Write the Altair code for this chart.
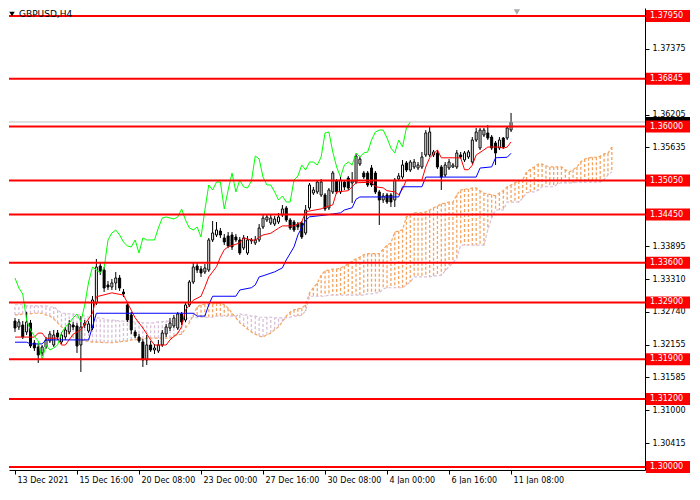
import altair as alt
import pandas as pd

# ---------------- data ----------------
symbol_label = ["GBPUSD,H4"]

time_label_bars = [0, 16, 32, 48, 64, 80, 96, 112, 128]
time_labels = ["13 Dec 2021", "15 Dec 16:00", "20 Dec 08:00", "23 Dec 00:00",
               "27 Dec 16:00", "30 Dec 08:00", "4 Jan 00:00", "6 Jan 16:00", "11 Jan 08:00"]

# price-axis ticks that are visible in the reference (the others sit under the red boxes)
price_ticks = [1.37375, 1.36790, 1.36205, 1.35635, 1.33895,
               1.33310, 1.32740, 1.32155, 1.31585, 1.31000, 1.30415]

levels = [1.37950, 1.36845, 1.36000, 1.35050, 1.34450, 1.33600,
          1.32900, 1.31900, 1.31200, 1.30000]

opens = [
    1.32573, 1.32468, 1.32503, 1.32380, 1.32538, 1.32186, 1.32116, 1.32010, 1.32116, 1.32221,
    1.32151, 1.32362, 1.32204, 1.32292, 1.32380, 1.32503, 1.32486, 1.32151, 1.32503, 1.32397,
    1.32450, 1.32891, 1.33543, 1.33473, 1.33208, 1.33173, 1.33244, 1.33332, 1.33085, 1.32856,
    1.32680, 1.32380, 1.32292, 1.32204, 1.31886, 1.32151, 1.32063, 1.32045, 1.32151, 1.32345,
    1.32450, 1.32486, 1.32450, 1.32697, 1.32591, 1.32856, 1.33261, 1.33543, 1.33490, 1.33438,
    1.33473, 1.34002, 1.34090, 1.34160, 1.34037, 1.34072, 1.34090, 1.34054, 1.34002, 1.33861,
    1.33772, 1.33984, 1.33949, 1.34002, 1.34231, 1.34354, 1.34301, 1.34283, 1.34319, 1.34442,
    1.34566, 1.34354, 1.34319, 1.34283, 1.34301, 1.34125, 1.34566, 1.34830, 1.34848, 1.34795,
    1.34795, 1.34566, 1.34848, 1.35041, 1.34848, 1.35024, 1.35094, 1.35006, 1.35024, 1.35341,
    1.35182, 1.35182, 1.35271, 1.35182, 1.34848, 1.34707, 1.34795, 1.34795, 1.34707, 1.35077,
    1.35112, 1.35359, 1.35235, 1.35288, 1.35271, 1.35288, 1.35500, 1.35500, 1.35500, 1.35535,
    1.35288, 1.35147, 1.35271, 1.35288, 1.35288, 1.35500, 1.35412, 1.35465, 1.35376, 1.35764,
    1.35623, 1.35852, 1.35888, 1.35817, 1.35711, 1.35623, 1.35799, 1.35799, 1.35940]

highs = [
    1.32627, 1.32609, 1.32573, 1.32733, 1.32591, 1.32239, 1.32168, 1.32151, 1.32292, 1.32397,
    1.32415, 1.32415, 1.32380, 1.32468, 1.32591, 1.32556, 1.32538, 1.32662, 1.32591, 1.32573,
    1.33014, 1.33667, 1.33596, 1.33525, 1.33279, 1.33314, 1.33438, 1.33385, 1.33138, 1.32909,
    1.32733, 1.32415, 1.32345, 1.32256, 1.32327, 1.32221, 1.32168, 1.32239, 1.32415, 1.32521,
    1.32627, 1.32680, 1.32733, 1.32733, 1.32909, 1.33297, 1.33596, 1.33614, 1.33543, 1.33578,
    1.34037, 1.34336, 1.34319, 1.34213, 1.34107, 1.34143, 1.34143, 1.34107, 1.34054, 1.34090,
    1.34072, 1.34037, 1.34072, 1.34283, 1.34442, 1.34460, 1.34442, 1.34424, 1.34477, 1.34618,
    1.34601, 1.34389, 1.34354, 1.34319, 1.34336, 1.34618, 1.35006, 1.34936, 1.35059, 1.35077,
    1.34830, 1.34918, 1.35218, 1.35077, 1.35112, 1.35059, 1.35130, 1.35200, 1.35517, 1.35465,
    1.35218, 1.35218, 1.35324, 1.35218, 1.34883, 1.34830, 1.34830, 1.34830, 1.35094, 1.35182,
    1.35412, 1.35394, 1.35412, 1.35429, 1.35376, 1.35553, 1.35940, 1.35993, 1.35588, 1.35588,
    1.35324, 1.35376, 1.35429, 1.35359, 1.35588, 1.35553, 1.35570, 1.35588, 1.35817, 1.35976,
    1.35976, 1.35976, 1.36029, 1.35852, 1.35746, 1.35817, 1.35817, 1.36011, 1.36241]

lows = [
    1.32380, 1.32415, 1.32256, 1.32327, 1.32098, 1.32045, 1.31833, 1.31957, 1.32080, 1.32186,
    1.32116, 1.32239, 1.32168, 1.32239, 1.32345, 1.32415, 1.32010, 1.31675, 1.32450, 1.32362,
    1.32415, 1.32856, 1.33385, 1.33085, 1.33120, 1.33120, 1.33120, 1.33103, 1.32997, 1.32556,
    1.32345, 1.32274, 1.32186, 1.31763, 1.31798, 1.32028, 1.31992, 1.32010, 1.32116, 1.32292,
    1.32397, 1.32450, 1.32415, 1.32503, 1.32556, 1.32821, 1.33226, 1.33420, 1.33349, 1.33402,
    1.33438, 1.33966, 1.34054, 1.34037, 1.33913, 1.33861, 1.33825, 1.33966, 1.33737, 1.33825,
    1.33737, 1.33931, 1.33913, 1.33966, 1.34195, 1.34319, 1.34266, 1.34248, 1.34283, 1.34407,
    1.34319, 1.34178, 1.34143, 1.34178, 1.34019, 1.34090, 1.34530, 1.34795, 1.34812, 1.34760,
    1.34513, 1.34530, 1.34812, 1.34812, 1.34812, 1.34883, 1.34883, 1.34654, 1.34989, 1.35306,
    1.35077, 1.34936, 1.34936, 1.34812, 1.34266, 1.34654, 1.34636, 1.34583, 1.34583, 1.35041,
    1.35077, 1.35200, 1.35200, 1.35253, 1.35235, 1.35253, 1.35465, 1.35465, 1.35465, 1.35253,
    1.34883, 1.35112, 1.35235, 1.35271, 1.35253, 1.35429, 1.35376, 1.35429, 1.35341, 1.35729,
    1.35588, 1.35817, 1.35764, 1.35588, 1.35324, 1.35588, 1.35606, 1.35764, 1.35905]

closes = [
    1.32450, 1.32556, 1.32292, 1.32556, 1.32133, 1.32098, 1.31975, 1.32116, 1.32239, 1.32345,
    1.32327, 1.32292, 1.32327, 1.32415, 1.32521, 1.32468, 1.32133, 1.32468, 1.32538, 1.32521,
    1.32944, 1.33525, 1.33455, 1.33155, 1.33173, 1.33244, 1.33332, 1.33155, 1.33050, 1.32591,
    1.32415, 1.32309, 1.32221, 1.31886, 1.32151, 1.32063, 1.32098, 1.32151, 1.32362, 1.32468,
    1.32538, 1.32627, 1.32697, 1.32556, 1.32856, 1.33261, 1.33525, 1.33473, 1.33420, 1.33508,
    1.34002, 1.34125, 1.34178, 1.34090, 1.33966, 1.33896, 1.33878, 1.34002, 1.33772, 1.34037,
    1.34002, 1.34002, 1.34002, 1.34213, 1.34389, 1.34407, 1.34389, 1.34372, 1.34407, 1.34548,
    1.34354, 1.34213, 1.34178, 1.34231, 1.34054, 1.34530, 1.34971, 1.34883, 1.35024, 1.35024,
    1.34548, 1.34883, 1.35182, 1.34848, 1.35059, 1.34936, 1.34918, 1.35041, 1.35482, 1.35429,
    1.35112, 1.34971, 1.34971, 1.34848, 1.34707, 1.34777, 1.34671, 1.34671, 1.35059, 1.35130,
    1.35324, 1.35235, 1.35376, 1.35376, 1.35324, 1.35465, 1.35888, 1.35905, 1.35553, 1.35288,
    1.35112, 1.35324, 1.35376, 1.35324, 1.35535, 1.35465, 1.35535, 1.35553, 1.35764, 1.35905,
    1.35940, 1.35940, 1.35799, 1.35623, 1.35535, 1.35764, 1.35641, 1.35976, 1.36082]

# Tenkan-sen (red) and Kijun-sen (blue): vertices (bar index, price)
tenkan_bar = [0, 5, 6, 7, 8, 11, 12, 13, 15, 17, 20, 21, 25, 28, 31, 33, 35, 36, 39, 40,
              42, 43, 44, 46, 48, 49, 50, 52, 53, 54, 55, 58, 59, 61, 62, 63, 64, 66, 68, 69,
              72, 74, 75, 79, 80, 82, 83, 86, 87, 88, 92, 93, 95, 96, 98, 99, 100, 101, 105, 106,
              107, 109, 110, 115, 116, 117, 118, 119, 121, 122, 125, 126, 127, 128]
tenkan_val = [1.3229, 1.3229, 1.3236, 1.3236, 1.3227, 1.3227, 1.3215, 1.3215, 1.3234, 1.3242,
              1.3271, 1.3300, 1.3307, 1.3303, 1.3263, 1.3245, 1.3224, 1.3215, 1.3215, 1.3224,
              1.3236, 1.3247, 1.3277, 1.3294, 1.3301, 1.3317, 1.3335, 1.3353, 1.3370, 1.3383,
              1.3388, 1.3395, 1.3404, 1.3400, 1.3400, 1.3405, 1.3409, 1.3412, 1.3421, 1.3425,
              1.3425, 1.3432, 1.3450, 1.3455, 1.3458, 1.3462, 1.3485, 1.3487, 1.3494, 1.3501,
              1.3502, 1.3494, 1.3492, 1.3487, 1.3485, 1.3480, 1.3490, 1.3506, 1.3506, 1.3529,
              1.3545, 1.3559, 1.3545, 1.3545, 1.3524, 1.3524, 1.3532, 1.3550, 1.3559, 1.3564,
              1.3564, 1.3562, 1.3564, 1.3573]

kijun_bar = [0, 3, 4, 7, 8, 19, 21, 46, 47, 49, 50, 51, 57, 58, 61, 62, 63, 64, 67, 69,
             70, 72, 73, 75, 76, 80, 84, 85, 87, 88, 89, 99, 100, 105, 106, 119, 120, 123, 124, 127,
             128]
kijun_val = [1.3220, 1.3220, 1.3217, 1.3217, 1.3224, 1.3224, 1.3271, 1.3271, 1.3266, 1.3266,
             1.3286, 1.3301, 1.3301, 1.3312, 1.3316, 1.3321, 1.3335, 1.3337, 1.3344, 1.3351,
             1.3365, 1.3388, 1.3409, 1.3435, 1.3441, 1.3444, 1.3448, 1.3453, 1.3457, 1.3472,
             1.3476, 1.3476, 1.3494, 1.3494, 1.3511, 1.3511, 1.3527, 1.3529, 1.3545, 1.3546,
             1.3553]

# Senkou span A / B (already shifted 26 bars forward), one value per bar 0..154
span_a = ([1.3268] * 2 + [1.3270] * 3 + [1.3271] * 3 + [1.3268, 1.3266, 1.3261, 1.3254, 1.3247,
          1.3240, 1.3234, 1.3229, 1.3226, 1.3224] + [1.3222] * 2 + [1.3220] * 3 + [1.3219] * 3 +
          [1.3220] * 2 + [1.3222] * 2 + [1.3224] * 2 + [1.3226] * 2 + [1.3227] * 7 +
          [1.3231, 1.3233, 1.3234, 1.3245, 1.3254, 1.3268, 1.3282, 1.3286] + [1.3287] * 3 +
          [1.3289] * 2 + [1.3286, 1.3280, 1.3271, 1.3263, 1.3254, 1.3249, 1.3243, 1.3238, 1.3234,
          1.3231, 1.3229, 1.3233, 1.3236, 1.3242, 1.3247, 1.3256, 1.3266, 1.3273, 1.3277, 1.3279,
          1.3280, 1.3286, 1.3307, 1.3316, 1.3324, 1.3338, 1.3346, 1.3347] + [1.3349] * 2 +
          [1.3351, 1.3354, 1.3358, 1.3363, 1.3367, 1.3370, 1.3374] + [1.3376] * 4 +
          [1.3384, 1.3391, 1.3395, 1.3414, 1.3416, 1.3418, 1.3441, 1.3444] + [1.3448] * 3 +
          [1.3450, 1.3453, 1.3457, 1.3460, 1.3464, 1.3465] + [1.3467] * 2 + [1.3480, 1.3488] +
          [1.3490] * 2 + [1.3492] * 2 + [1.3487, 1.3483, 1.3481, 1.3480, 1.3478, 1.3483, 1.3487,
          1.3494, 1.3497, 1.3501, 1.3504, 1.3506, 1.3520, 1.3525, 1.3529] + [1.3534] * 2 +
          [1.3531] + [1.3529] * 4 + [1.3524, 1.3520, 1.3524, 1.3529, 1.3538, 1.3543, 1.3545] +
          [1.3546] * 2 + [1.3548, 1.3552, 1.3553, 1.3564])

span_b = ([1.3286] * 3 + [1.3284] * 6 + [1.3282] * 2 + [1.3277] + [1.3271] * 2 + [1.3270] * 2 +
          [1.3268] * 2 + [1.3266] + [1.3264] * 2 + [1.3263] * 2 + [1.3261] + [1.3259] * 3 +
          [1.3257] * 2 + [1.3256] * 4 + [1.3254] * 4 + [1.3256] * 2 + [1.3257] * 3 +
          [1.3259] * 2 + [1.3261, 1.3263] + [1.3264] * 6 + [1.3266] * 6 + [1.3270] +
          [1.3268] * 2 + [1.3266] * 2 + [1.3264] * 4 + [1.3263] * 4 + [1.3264] + [1.3266] * 2 +
          [1.3268, 1.3275] + [1.3301] * 5 + [1.3303] * 10 + [1.3305] * 2 + [1.3307] * 2 +
          [1.3314] + [1.3316] * 5 + [1.3321, 1.3326] + [1.3335] * 5 + [1.3337] * 2 +
          [1.3338, 1.3346, 1.3353, 1.3360, 1.3368] + [1.3391] * 7 + [1.3418, 1.3439] +
          [1.3453] * 3 + [1.3467] * 4 + [1.3474, 1.3483] + [1.3485] * 2 + [1.3488] +
          [1.3494] * 4 + [1.3499] + [1.3501] * 4 + [1.3502] * 7 + [1.3506, 1.3515, 1.3520])

CHIKOU_SHIFT = 26

# ---------------- tables ----------------
n = min(len(opens), len(highs), len(lows), len(closes))
candles = pd.DataFrame({
    "x": list(range(n)),
    "open": opens[:n], "high": highs[:n], "low": lows[:n], "close": closes[:n],
})
candles["fill"] = ["white" if c >= o else "black" for o, c in zip(candles["open"], candles["close"])]

m = min(len(span_a), len(span_b))
cloud = pd.DataFrame({"x": list(range(m)), "a": span_a[:m], "b": span_b[:m]})
cloud["col"] = ["#f4a460" if a >= b else "#d8bfd8" for a, b in zip(cloud["a"], cloud["b"])]

tenkan = pd.DataFrame({"x": tenkan_bar, "v": tenkan_val})
kijun = pd.DataFrame({"x": kijun_bar, "v": kijun_val})
chikou = pd.DataFrame({"x": [i - CHIKOU_SHIFT for i in range(CHIKOU_SHIFT, n)],
                       "v": closes[CHIKOU_SHIFT:n]})

lev = pd.DataFrame({"level": levels, "label": [f"{v:.5f}" for v in levels]})
bid = pd.DataFrame({"level": [closes[n - 1]], "label": [f"{closes[n - 1]:.5f}"]})
title_df = pd.DataFrame({"label": symbol_label})
shift_df = pd.DataFrame({"x": [n + 0.5]})

# ---------------- geometry / styles ----------------
W, H = 636, 462
PX = 0.00017627                      # price per pixel
X_DOMAIN = [-0.254, 161.27]
Y_DOMAIN = [1.29947, 1.38091]
FONT = "DejaVu Sans"

label_expr = "[" + ",".join(f"'{t}'" for t in time_labels) + "][round(datum.value/16)]"

x_axis = alt.Axis(values=time_label_bars, labelExpr=label_expr, title=None, grid=False,
                  tickSize=4, tickColor="black", domainColor="black", labelColor="black",
                  labelAlign="left", labelOffset=2, labelPadding=2, labelFlush=False,
                  labelOverlap=False, labelFont=FONT, labelFontSize=8)
y_axis = alt.Axis(orient="right", values=price_ticks, format=".5f", title=None, grid=False,
                  tickSize=4, tickColor="black", domainColor="black", labelColor="black",
                  labelAlign="left", labelBaseline="middle", labelPadding=3, labelFlush=False,
                  labelOverlap=False, labelFont=FONT, labelFontSize=8)

xs = alt.Scale(domain=X_DOMAIN, nice=False, zero=False)
ys = alt.Scale(domain=Y_DOMAIN, nice=False, zero=False)


def X(f="x"):
    return alt.X(f"{f}:Q", scale=xs, axis=x_axis)


def Y(f):
    return alt.Y(f"{f}:Q", scale=ys, axis=y_axis)


hatch = alt.Chart(cloud).mark_rule(strokeWidth=1.3, strokeDash=[3, 2]).encode(
    x=X(), y=Y("a"), y2="b:Q", color=alt.Color("col:N", scale=None))
line_a = alt.Chart(cloud).mark_line(color="#f4a460", strokeWidth=1.2, strokeDash=[3, 2]).encode(
    x=X(), y=Y("a"))
line_b = alt.Chart(cloud).mark_line(color="#d8bfd8", strokeWidth=1.2, strokeDash=[3, 2]).encode(
    x=X(), y=Y("b"))

wicks = alt.Chart(candles).mark_rule(color="black", strokeWidth=1).encode(
    x=X(), y=Y("low"), y2="high:Q")
bodies = alt.Chart(candles).mark_bar(size=2, stroke="black", strokeWidth=1).encode(
    x=X(), y=Y("open"), y2="close:Q", fill=alt.Fill("fill:N", scale=None))

l_tenkan = alt.Chart(tenkan).mark_line(color="#ff0000", strokeWidth=1).encode(x=X(), y=Y("v"))
l_kijun = alt.Chart(kijun).mark_line(color="#0000ff", strokeWidth=1).encode(x=X(), y=Y("v"))
l_chikou = alt.Chart(chikou).mark_line(color="#00ff00", strokeWidth=1).encode(x=X(), y=Y("v"))

bid_line = alt.Chart(bid).mark_rule(color="#c0c0c0", strokeWidth=1).encode(y=Y("level"))
level_lines = alt.Chart(lev).mark_rule(color="#ff0000", strokeWidth=2).encode(y=Y("level"))

bid_box = alt.Chart(bid).transform_calculate(
    lo=f"datum.level - {5 * PX}", hi=f"datum.level + {5 * PX}"
).mark_rect(color="black").encode(
    x=alt.value(W + 1), x2=alt.value(W + 45), y=Y("lo"), y2="hi:Q")

lev_box = alt.Chart(lev).transform_calculate(
    lo=f"datum.level - {6 * PX}", hi=f"datum.level + {6 * PX}"
).mark_rect(color="#ff0000").encode(
    x=alt.value(W + 1), x2=alt.value(W + 45), y=Y("lo"), y2="hi:Q")
lev_text = alt.Chart(lev).mark_text(align="left", baseline="middle", color="white",
                                    font=FONT, fontSize=8).encode(
    x=alt.value(W + 5), y=Y("level"), text="label:N")

title_tri = alt.Chart(title_df).mark_point(shape="triangle-down", filled=True, size=30,
                                           color="black", opacity=1).encode(
    x=alt.value(3), y=alt.value(6))
title_txt = alt.Chart(title_df).mark_text(align="left", baseline="middle", color="black",
                                          font=FONT, fontSize=9).encode(
    x=alt.value(10), y=alt.value(6), text="label:N")
shift_mark = alt.Chart(shift_df).mark_point(shape="triangle-down", filled=True, size=40,
                                            color="#a9a9a9", opacity=1).encode(
    x=X(), y=alt.value(4))

chart = alt.layer(
    hatch, line_a, line_b, wicks, bodies, l_tenkan, l_kijun, l_chikou,
    bid_line, level_lines, bid_box, lev_box, lev_text,
    title_tri, title_txt, shift_mark
).properties(
    width=W, height=H, padding=0, background="white"
).configure_view(stroke=None)

chart.save("out.html", embed_options={"renderer": "svg", "actions": False})
